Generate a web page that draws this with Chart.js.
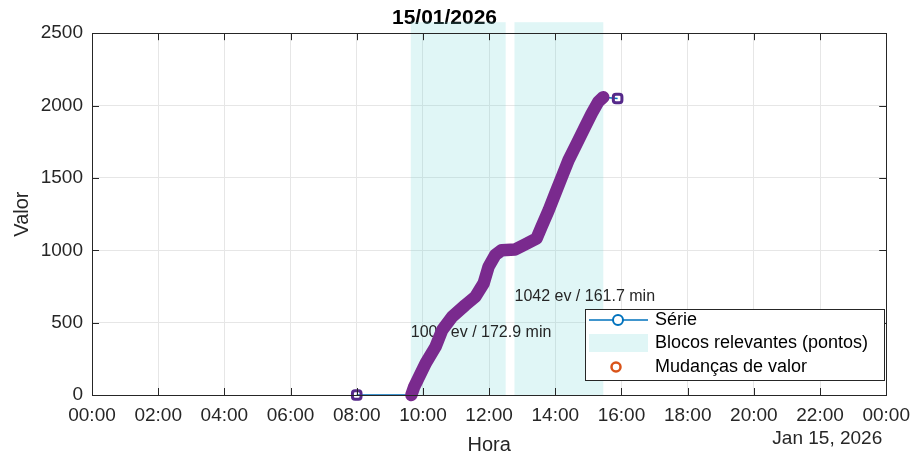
<!DOCTYPE html>
<html><head><meta charset="utf-8">
<script src="https://cdn.jsdelivr.net/npm/chart.js@4.4.1/dist/chart.umd.min.js"></script>
<style>html,body{margin:0;padding:0;background:#fff;overflow:hidden;}</style>
</head><body>
<canvas id="c" width="919" height="457"></canvas>
<script>
// ---- data ----
const tituloData = '15/01/2026';
const rotuloDataEixo = 'Jan 15, 2026';
const rotulosHora = ['00:00','02:00','04:00','06:00','08:00','10:00','12:00','14:00','16:00','18:00','20:00','22:00','00:00'];
const rotulosValor = ['0','500','1000','1500','2000','2500'];

const horaSerie  = ['08:00','09:38','09:44','10:05','10:23','10:35','10:53','11:17','11:35','11:50','11:59','12:11','12:23','12:47','13:05','13:26','13:35','13:48','14:00','14:12','14:24','14:39','14:54','15:06','15:18','15:27','15:53'];
const valorSerie = [0,      0,      55,     219,    334,    449,    541,    622,    679,    771,    886,    967,    1001,   1005,   1040,   1082,   1162,   1277,   1393,   1508,   1623,   1738,   1853,   1945,   2026,   2058,   2049];

const horaMudancas  = ['09:39','09:44','10:05','10:23','10:35','10:53','11:17','11:35','11:50','11:59','12:11','12:23','12:47','13:05','13:26','13:35','13:48','14:00','14:12','14:24','14:39','14:54','15:06','15:18','15:27'];
const valorMudancas = [0,      55,     219,    334,    449,    541,    622,    679,    771,    886,    967,    1001,   1005,   1040,   1082,   1162,   1277,   1393,   1508,   1623,   1738,   1853,   1945,   2026,   2058];

const blocoInicio = ['09:38','12:46'];
const blocoFim    = ['12:30','15:27'];
const blocoTopo   = 2576;
const blocoTextos = ['1005 ev / 172.9 min','1042 ev / 161.7 min'];
const blocoTextoValor = [428, 677];

const legendaNomes = ['Série','Blocos relevantes (pontos)','Mudanças de valor'];

// ---- helpers ----
function h(t){ const p = t.split(':'); return (+p[0]) + (+p[1])/60; }
const FONT = "'Liberation Sans', Arial, sans-serif";
const TXT = '#262626';
const AZUL = '#0072BD', LARANJA = '#D95319', ROXO = '#7a2a8e', CIANO = 'rgba(120,215,215,0.23)';
const ultimo = horaSerie.length - 1;

const decor = {
  id: 'decor',
  beforeDatasetsDraw(chart){
    const {ctx, chartArea:a, scales:{x, y}} = chart;
    ctx.save();
    ctx.fillStyle = CIANO;
    for (let i = 0; i < blocoInicio.length; i++){
      const x0 = x.getPixelForValue(h(blocoInicio[i])), x1 = x.getPixelForValue(h(blocoFim[i]));
      const yt = y.getPixelForValue(blocoTopo), yb = y.getPixelForValue(0);
      ctx.fillRect(x0, yt, x1 - x0, yb - yt);
    }
    ctx.fillStyle = TXT;
    ctx.font = '16px ' + FONT;
    ctx.textAlign = 'left'; ctx.textBaseline = 'middle';
    for (let i = 0; i < blocoTextos.length; i++){
      ctx.fillText(blocoTextos[i], x.getPixelForValue(h(blocoInicio[i])), y.getPixelForValue(blocoTextoValor[i]));
    }
    ctx.restore();
  },
  afterDraw(chart){
    const {ctx, chartArea:a, scales:{x, y}} = chart;
    ctx.save();
    // box
    ctx.strokeStyle = TXT; ctx.lineWidth = 1;
    ctx.strokeRect(Math.round(a.left)+0.5, Math.round(a.top)+0.5, Math.round(a.right-a.left), Math.round(a.bottom-a.top));
    // inward ticks
    ctx.beginPath();
    x.ticks.forEach(t => { const px = Math.round(x.getPixelForValue(t.value))+0.5;
      ctx.moveTo(px, a.bottom); ctx.lineTo(px, a.bottom-7); ctx.moveTo(px, a.top); ctx.lineTo(px, a.top+7); });
    y.ticks.forEach(t => { const py = Math.round(y.getPixelForValue(t.value))+0.5;
      ctx.moveTo(a.left, py); ctx.lineTo(a.left+7, py); ctx.moveTo(a.right, py); ctx.lineTo(a.right-7, py); });
    ctx.stroke();
    // date label
    ctx.fillStyle = TXT; ctx.font = '19px ' + FONT; ctx.textAlign = 'right'; ctx.textBaseline = 'middle';
    ctx.fillText(rotuloDataEixo, a.right - 4, 439);
    // legend
    const L = 585, R = 884, T = 309, B = 380;
    ctx.fillStyle = '#fff'; ctx.fillRect(L, T, R-L, B-T);
    ctx.strokeStyle = TXT; ctx.lineWidth = 1; ctx.strokeRect(L+0.5, T+0.5, R-L, B-T);
    const rows = [320, 343, 367];
    // Série
    ctx.strokeStyle = AZUL; ctx.lineWidth = 1.5;
    ctx.beginPath(); ctx.moveTo(589, rows[0]); ctx.lineTo(648, rows[0]); ctx.stroke();
    ctx.fillStyle = '#fff'; ctx.beginPath(); ctx.arc(618, rows[0], 5, 0, 2*Math.PI); ctx.fill();
    ctx.lineWidth = 2; ctx.stroke();
    // Blocos
    ctx.fillStyle = CIANO; ctx.fillRect(589, rows[1]-9, 59, 18);
    // Mudanças
    ctx.strokeStyle = LARANJA; ctx.lineWidth = 2.5;
    ctx.beginPath(); ctx.arc(616, rows[2], 4.5, 0, 2*Math.PI); ctx.stroke();
    ctx.fillStyle = '#000'; ctx.font = '18px ' + FONT; ctx.textAlign = 'left'; ctx.textBaseline = 'middle';
    legendaNomes.forEach((n, i) => ctx.fillText(n, 655, rows[i]));
    ctx.restore();
  }
};

new Chart(document.getElementById('c'), {
  type: 'scatter',
  data: {
    datasets: [
      {
        label: legendaNomes[0],
        data: horaSerie.map((t, i) => ({x: h(t), y: valorSerie[i]})),
        showLine: true, borderColor: AZUL, borderWidth: 1.5,
        pointRadius: horaSerie.map((t, i) => (i === 0 || i === ultimo) ? 5 : 0),
        pointStyle: 'rectRounded',
        pointBorderColor: '#55298a', pointBorderWidth: 3, pointBackgroundColor: 'rgba(255,255,255,0)',
        order: 2, clip: false
      },
      {
        label: legendaNomes[2],
        data: horaMudancas.map((t, i) => ({x: h(t), y: valorMudancas[i]})),
        showLine: true, borderColor: ROXO, borderWidth: 12.5,
        borderCapStyle: 'round', borderJoinStyle: 'round',
        pointRadius: 0, order: 1, clip: false
      }
    ]
  },
  options: {
    responsive: false, animation: false, devicePixelRatio: 1,
    layout: { padding: { left: 0, right: 30, top: 0, bottom: 0 } },
    plugins: {
      legend: { display: false },
      tooltip: { enabled: false },
      title: { display: true, text: tituloData, color: '#000',
               font: { family: FONT, size: 21, weight: 'bold' }, padding: { top: 6, bottom: 2 } }
    },
    scales: {
      x: {
        type: 'linear', min: 0, max: 24,
        afterFit(s){ s.height = 62; },
        ticks: { stepSize: 2, autoSkip: false, maxRotation: 0, color: TXT, padding: 9,
                 font: { family: FONT, size: 19 }, callback: (v, i) => rotulosHora[i] },
        grid: { color: '#e6e6e6', drawTicks: false },
        border: { display: false },
        title: { display: true, text: 'Hora', color: TXT, font: { family: FONT, size: 20 }, padding: { top: 0, bottom: 0 } }
      },
      y: {
        min: 0, max: 2500,
        afterFit(s){ s.width = 92; },
        ticks: { stepSize: 500, color: TXT, padding: 9,
                 font: { family: FONT, size: 19 }, callback: (v, i) => rotulosValor[i] },
        grid: { color: '#e6e6e6', drawTicks: false },
        border: { display: false },
        title: { display: true, text: 'Valor', color: TXT, font: { family: FONT, size: 20 }, padding: { top: 10, bottom: 0 } }
      }
    }
  },
  plugins: [decor]
});
</script>
</body></html>
